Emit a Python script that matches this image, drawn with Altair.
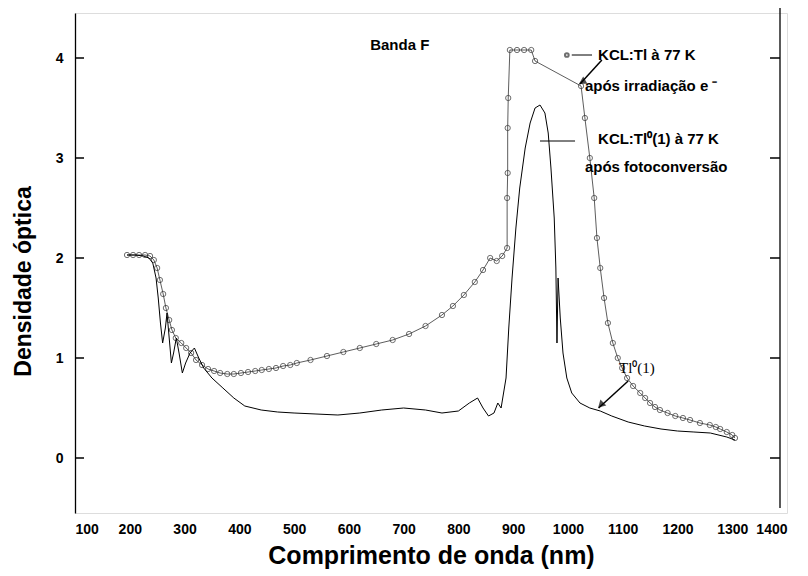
import altair as alt
import pandas as pd

# Curve 1: KCL:Tl a 77 K apos irradiacao (circles)
c1_x = [195, 206, 217, 228, 237, 244, 250, 255, 261, 266, 272, 277, 284, 294, 303, 312, 321, 332, 343, 354,
        365, 378, 390, 403, 416, 429, 441, 454, 467, 480, 493, 505, 530, 560, 590, 620, 650, 680, 710, 740,
        770, 790, 810, 830, 845, 858, 870, 880, 889, 889, 890, 890, 891, 894, 907, 920, 933, 940,
        1024, 1031, 1040, 1048, 1053, 1059, 1066, 1073, 1082, 1091, 1099, 1108, 1119, 1132, 1141, 1150,
        1159, 1168, 1182, 1196, 1210, 1223, 1241, 1259, 1270, 1278, 1290, 1300, 1305]
c1_y = [2.03, 2.03, 2.03, 2.03, 2.02, 1.98, 1.90, 1.78, 1.64, 1.50, 1.38, 1.28, 1.20, 1.15, 1.10, 1.05, 0.98, 0.93, 0.89, 0.87,
        0.85, 0.84, 0.84, 0.85, 0.86, 0.87, 0.88, 0.89, 0.90, 0.92, 0.93, 0.95, 0.98, 1.02, 1.06, 1.10, 1.14, 1.18, 1.24, 1.32,
        1.43, 1.52, 1.63, 1.76, 1.88, 2.00, 1.97, 2.02, 2.10, 2.60, 2.85, 3.30, 3.60, 4.08, 4.08, 4.08, 4.08, 3.97,
        3.72, 3.40, 3.00, 2.60, 2.20, 1.90, 1.60, 1.35, 1.15, 1.00, 0.90, 0.80, 0.72, 0.65, 0.60, 0.55,
        0.51, 0.48, 0.45, 0.42, 0.40, 0.38, 0.35, 0.33, 0.31, 0.29, 0.26, 0.23, 0.20]

# Curve 2: KCL:Tl0(1) a 77 K apos fotoconversao (line)
c2_x = [195, 210, 225, 235, 242, 248, 252, 256, 260, 265, 268, 272, 276, 280, 285, 290, 296, 302, 310, 318,
        326, 335, 350, 370, 390, 410, 440, 470, 500, 540, 580, 620, 660, 700, 740, 770, 800, 820, 835, 845,
        855, 865, 872, 878, 881, 887, 892, 898, 905, 912, 922, 931, 940, 949, 958, 964, 969, 975, 978, 980,
        982, 986, 991, 998, 1007, 1022, 1040, 1059, 1080, 1110, 1140, 1170, 1200, 1230, 1260, 1290, 1305]
c2_y = [2.03, 2.03, 2.02, 2.00, 1.95, 1.80, 1.60, 1.35, 1.15, 1.30, 1.45, 1.20, 0.95, 1.05, 1.20, 1.05, 0.85, 0.95, 1.05, 1.10,
        1.00, 0.90, 0.80, 0.70, 0.60, 0.52, 0.48, 0.46, 0.45, 0.44, 0.43, 0.45, 0.48, 0.50, 0.48, 0.45, 0.47, 0.55, 0.60, 0.50,
        0.42, 0.45, 0.55, 0.50, 0.60, 0.80, 1.30, 1.80, 2.30, 2.70, 3.10, 3.35, 3.50, 3.53, 3.45, 3.25, 2.90, 2.40, 1.90, 1.15,
        1.80, 1.40, 1.05, 0.80, 0.65, 0.55, 0.50, 0.47, 0.42, 0.36, 0.32, 0.29, 0.27, 0.26, 0.25, 0.21, 0.18]

x_ticks = [100, 200, 300, 400, 500, 600, 700, 800, 900, 1000, 1100, 1200, 1300, 1400]
y_ticks = [0, 1, 2, 3, 4]

df1 = pd.DataFrame({"x": c1_x, "y": c1_y})
df2 = pd.DataFrame({"x": c2_x, "y": c2_y})
dticks = pd.DataFrame({"y": y_ticks})
one = pd.DataFrame({"k": [0]})

FONT = "Liberation Sans"
xs = alt.Scale(domain=[100, 1400], nice=False, zero=False)
ys = alt.Scale(domain=[-0.55, 4.45], nice=False, zero=False)

xaxis = alt.Axis(values=x_ticks, format="d", title="Comprimento de onda (nm)", domain=False, ticks=False,
                 grid=False, labelFont=FONT, labelFontSize=14, labelFontWeight="bold", labelColor="black",
                 labelPadding=9, titleFont=FONT, titleFontSize=25, titleFontWeight="bold",
                 titleColor="black", titlePadding=7)
yaxis = alt.Axis(values=y_ticks, format="d", title="Densidade óptica", domainColor="black", domainWidth=1.3,
                 ticks=False, grid=False, labelFont=FONT,
                 labelFontSize=14, labelFontWeight="bold", labelColor="black", labelPadding=12,
                 titleFont=FONT, titleFontSize=23, titleFontWeight="bold", titleColor="black",
                 titlePadding=20, titleY=268)

line1 = alt.Chart(df1).mark_line(color="#333333", strokeWidth=0.8).encode(
    x=alt.X("x:Q", scale=xs, axis=xaxis), y=alt.Y("y:Q", scale=ys, axis=yaxis))
pts1 = alt.Chart(df1).mark_point(shape="circle", size=28, color="#333333", strokeWidth=1,
                                  filled=False).encode(x=alt.X("x:Q", scale=xs), y=alt.Y("y:Q", scale=ys))
line2 = alt.Chart(df2).mark_line(color="black", strokeWidth=1).encode(
    x=alt.X("x:Q", scale=xs), y=alt.Y("y:Q", scale=ys))

# right frame line and inward ticks
rframe = alt.Chart(one).mark_rule(color="black", strokeWidth=1.3).encode(
    x=alt.value(705), y=alt.value(-5), y2=alt.value(495))
lticks = alt.Chart(dticks).mark_rule(color="black", strokeWidth=1.5).encode(
    y=alt.Y("y:Q", scale=ys), x=alt.value(0), x2=alt.value(9))
rticks = alt.Chart(dticks).mark_rule(color="black", strokeWidth=1.5).encode(
    y=alt.Y("y:Q", scale=ys), x=alt.value(695), x2=alt.value(705))

# annotations
ann1 = pd.DataFrame({"x": [693], "y": [4.13], "t": ["Banda F"]})
t1 = alt.Chart(ann1).mark_text(font=FONT, fontSize=15, fontWeight="bold", color="black",
                               align="center").encode(
    x=alt.X("x:Q", scale=xs), y=alt.Y("y:Q", scale=ys), text="t:N")
ann2 = pd.DataFrame({"x": [1126], "y": [0.90], "t": ["Tl⁰(1)"]})
t2 = alt.Chart(ann2).mark_text(font="Liberation Serif", fontSize=15, color="black",
                               align="center").encode(
    x=alt.X("x:Q", scale=xs), y=alt.Y("y:Q", scale=ys), text="t:N")

arrows = pd.DataFrame({"x": [1062, 1110], "y": [3.98, 0.77], "x2": [1022, 1056], "y2": [3.74, 0.50]})
arr = alt.Chart(arrows).mark_rule(color="black", strokeWidth=1.5).encode(
    x=alt.X("x:Q", scale=xs), y=alt.Y("y:Q", scale=ys), x2="x2:Q", y2="y2:Q")
heads = pd.DataFrame({"x": [1026, 1060], "y": [3.76, 0.53], "a": [240, 225]})
hd = alt.Chart(heads).mark_point(shape="triangle-up", filled=True, size=70, color="black").encode(
    x=alt.X("x:Q", scale=xs), y=alt.Y("y:Q", scale=ys), angle=alt.Angle("a:Q", scale=None))

# legend
leg_lines = pd.DataFrame({"x": [1007, 949], "x2": [1044, 1013], "y": [4.03, 3.17]})
ll = alt.Chart(leg_lines).mark_rule(color="black", strokeWidth=1).encode(
    x=alt.X("x:Q", scale=xs), x2="x2:Q", y=alt.Y("y:Q", scale=ys))
leg_pt = pd.DataFrame({"x": [998], "y": [4.03]})
lp = alt.Chart(leg_pt).mark_point(shape="circle", size=14, color="#333333").encode(
    x=alt.X("x:Q", scale=xs), y=alt.Y("y:Q", scale=ys))
leg_txt = pd.DataFrame({"x": [1055, 1031, 1055, 1031],
                        "y": [4.03, 3.72, 3.19, 2.91],
                        "t": ["KCL:Tl à 77 K", "após irradiação e ⁻", "KCL:Tl⁰(1) à 77 K",
                              "após fotoconversão"]})
lt = alt.Chart(leg_txt).mark_text(font=FONT, fontSize=15, fontWeight="bold", color="black",
                                  align="left").encode(
    x=alt.X("x:Q", scale=xs), y=alt.Y("y:Q", scale=ys), text="t:N")

chart = alt.layer(line1, pts1, line2, rframe, lticks, rticks, t1, t2, arr, hd, ll, lp, lt).properties(
    width=712, height=500,
    autosize=alt.AutoSizeParams(type="none"),
    padding={"left": 67, "top": 5, "right": 13, "bottom": 58},
).configure_view(stroke=None).configure(background="white")

chart.save("out.html", embed_options={"renderer": "svg", "actions": False})
